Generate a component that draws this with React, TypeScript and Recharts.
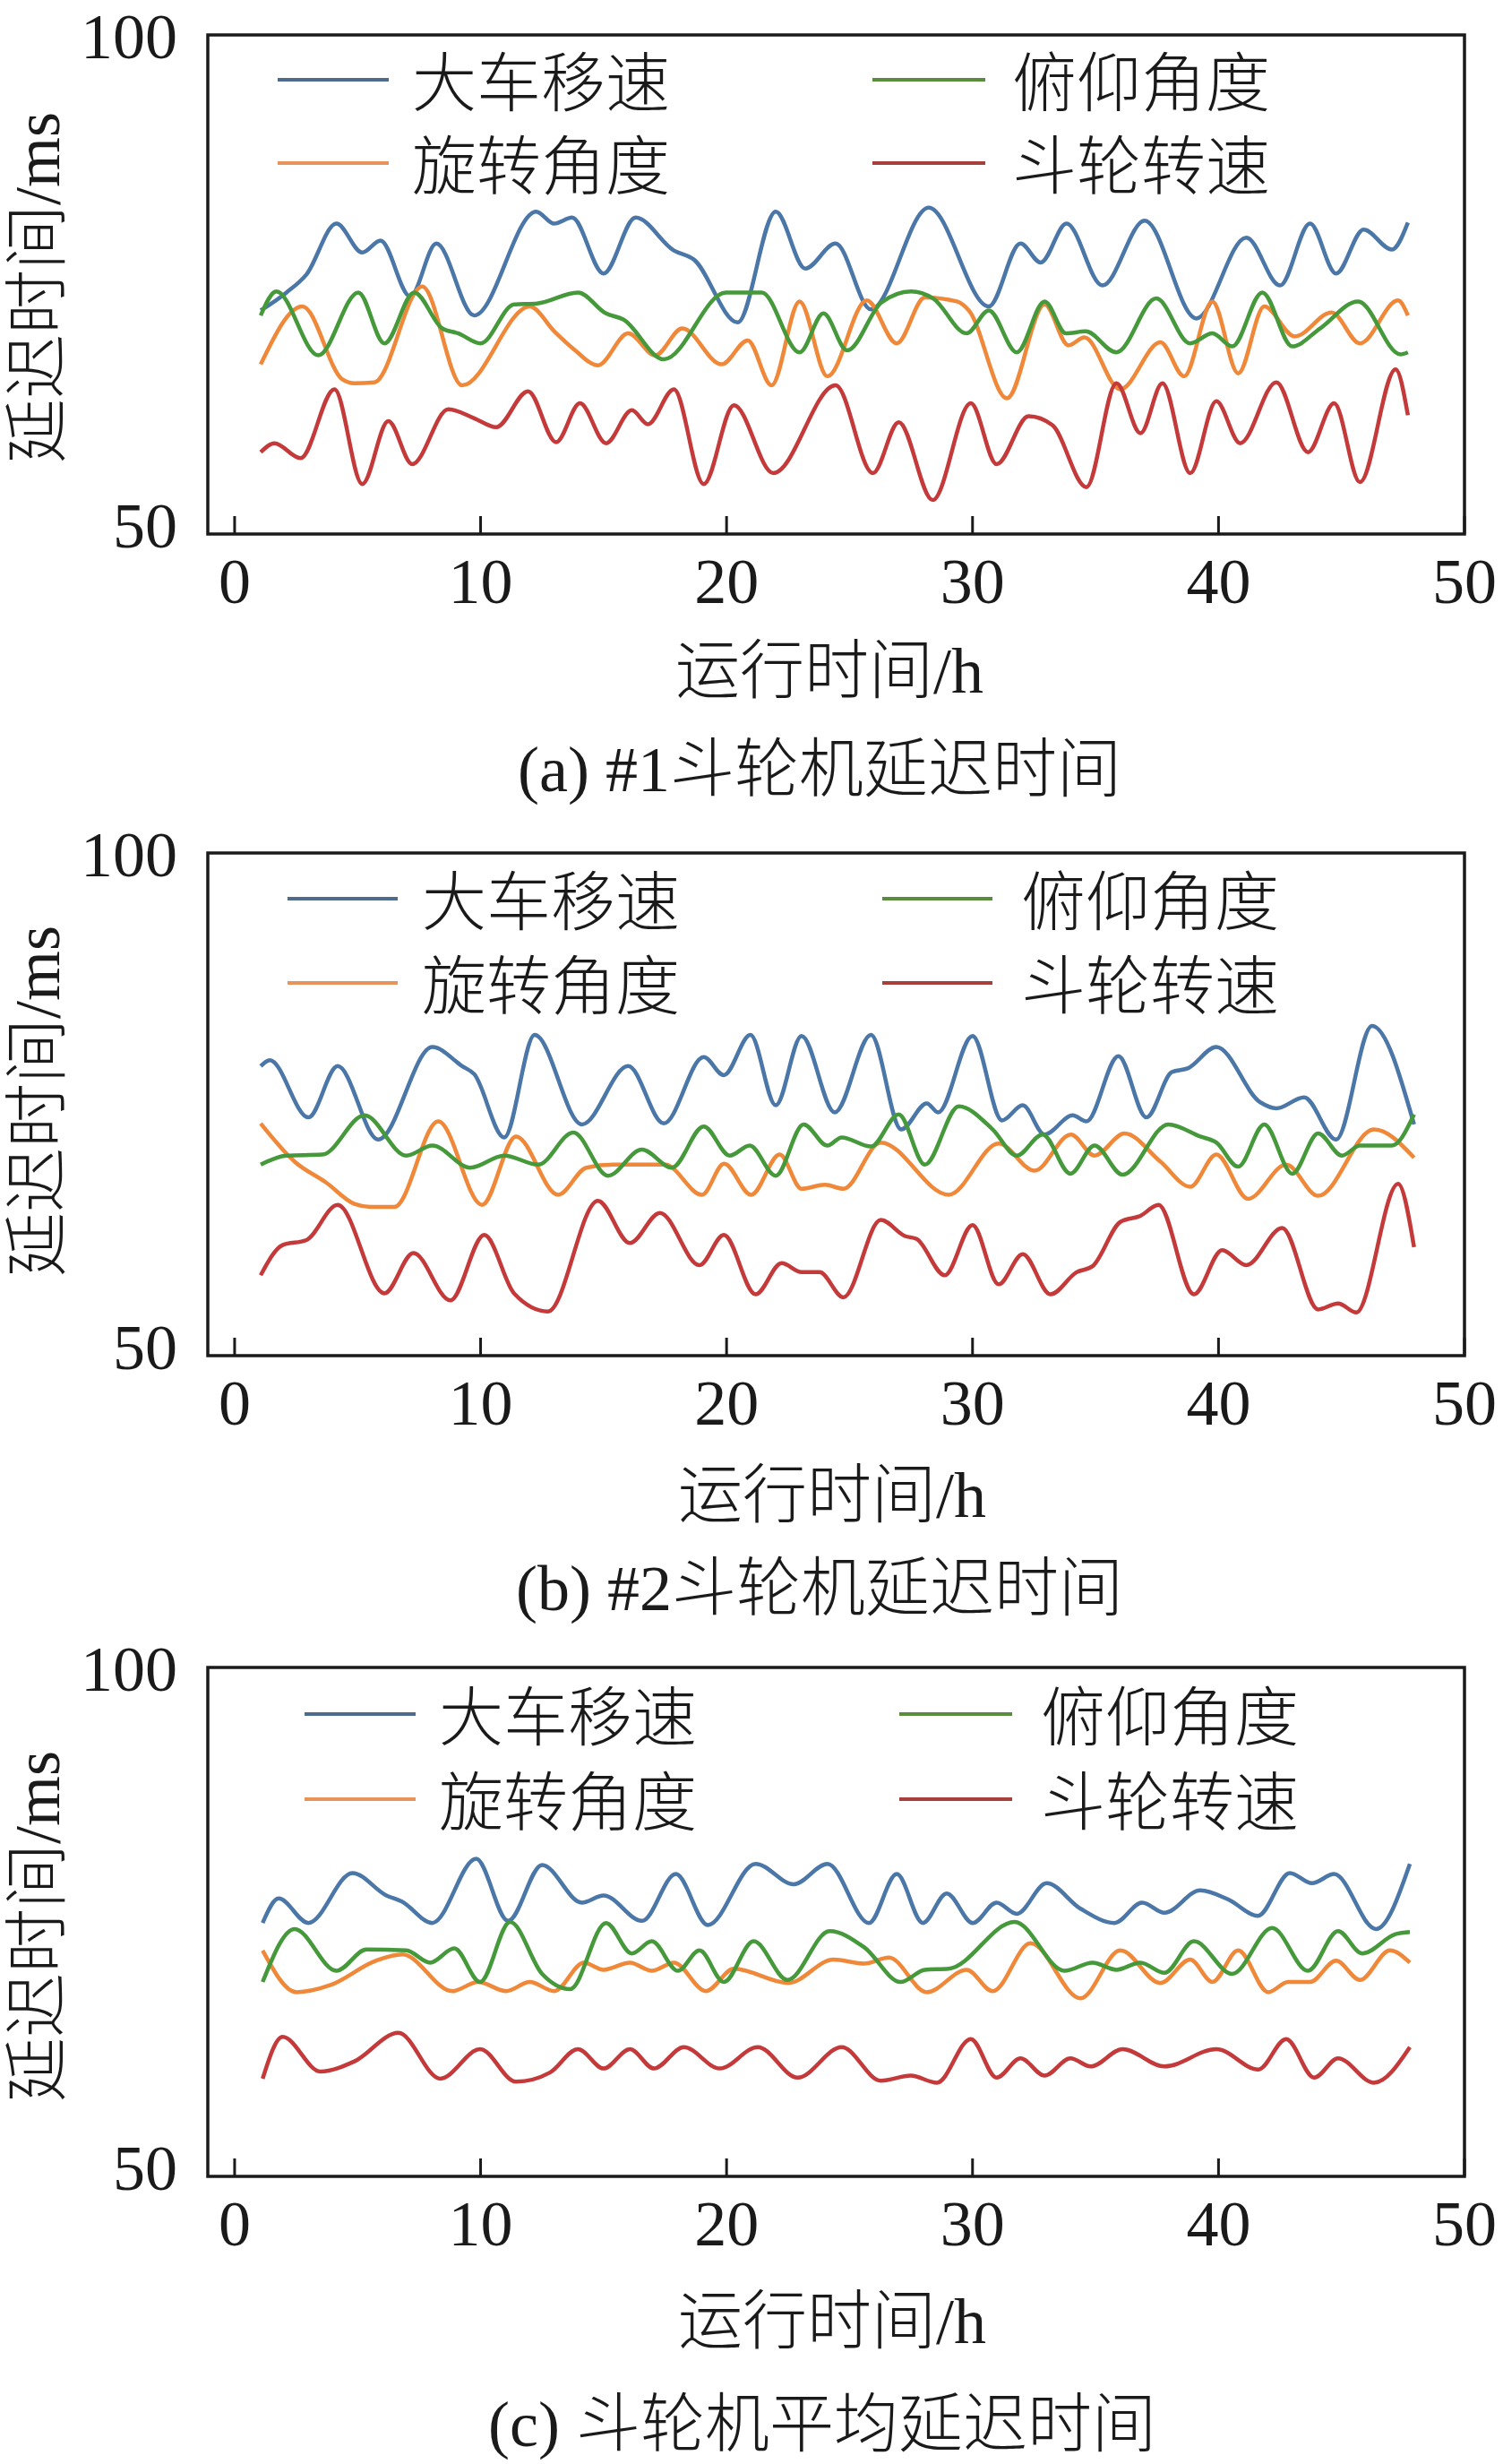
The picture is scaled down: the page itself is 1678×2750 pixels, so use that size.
import React from 'react';
import { LineChart, Line, XAxis, YAxis, ReferenceArea } from 'recharts';

const FONT = "'Liberation Serif','Times New Roman','Noto Sans CJK SC',serif";
const INK = '#1a1a1a';

const X_TICKS = [0, 10, 20, 30, 40, 50];
const Y_TICKS = [50, 100];
const X_DOMAIN: [number, number] = [-1.09, 50];
const Y_DOMAIN: [number, number] = [50, 100];

const SERIES_NAMES = ['大车移速', '旋转角度', '俯仰角度', '斗轮转速'];
const LINE_COLORS = ['#4a76a8', '#f0883a', '#45993b', '#c43a3a'];
const LEGEND_COLORS = ['#4d6b8c', '#e6935c', '#5a8c3e', '#a5403a'];

const X_TITLE = '运行时间/h';
const Y_TITLE = '延迟时间/ms';
const CAPTIONS = ['(a) #1斗轮机延迟时间', '(b) #2斗轮机延迟时间', '(c) 斗轮机平均延迟时间'];

type P = [number, number];

// ---------- Panel (a): #1 ----------
const A_BLUE: P[] = [
  [1.06, 72.4], [2.11, 74.2], [2.92, 76.0], [4.14, 81.1], [5.19, 78.2], [5.93, 79.4], [7.14, 73.8],
  [8.2, 79.1], [9.74, 71.9], [12.26, 82.3], [12.99, 81.1], [13.72, 81.7], [15.0, 76.1], [16.3, 81.7],
  [17.86, 78.4], [18.67, 77.5], [20.45, 71.2], [22.0, 82.3], [23.2, 76.6], [24.43, 79.1], [25.87, 72.5],
  [28.22, 82.7], [30.66, 72.8], [31.95, 79.1], [32.77, 77.2], [33.82, 81.1], [35.28, 74.9], [37.0, 81.4],
  [39.1, 71.6], [41.13, 79.7], [42.5, 74.9], [43.72, 81.1], [44.78, 76.1], [45.9, 80.5], [47.05, 78.5],
  [47.7, 81.2],
];
const A_ORANGE: P[] = [
  [1.06, 67.0], [2.76, 72.8], [4.38, 65.5], [4.87, 65.1], [5.68, 65.2], [7.63, 74.8], [9.25, 64.9],
  [12.0, 72.8], [13.0, 70.3], [13.8, 68.5], [14.77, 66.9], [16.0, 70.1], [17.1, 67.9], [18.2, 70.6],
  [19.8, 67.0], [20.86, 69.4], [21.83, 64.9], [22.97, 73.3], [24.1, 65.8], [25.7, 73.4], [26.92, 69.1],
  [28.06, 73.7], [29.36, 73.3], [29.85, 72.4], [31.4, 63.6], [32.93, 73.0], [33.9, 68.9], [34.55, 69.7],
  [36.0, 64.5], [37.64, 69.2], [38.6, 65.8], [39.75, 73.3], [40.8, 66.1], [41.86, 72.8], [43.1, 69.8],
  [44.6, 72.2], [45.75, 69.1], [47.3, 73.4], [47.7, 71.9],
];
const A_GREEN: P[] = [
  [1.06, 71.9], [1.7, 74.3], [3.4, 67.9], [5.03, 74.2], [6.09, 69.1], [7.3, 74.2], [8.44, 70.6],
  [9.1, 70.1], [10.0, 69.1], [11.36, 73.0], [12.3, 73.1], [13.96, 74.2], [15.1, 72.1], [15.8, 71.5],
  [17.45, 67.5], [19.97, 74.2], [21.43, 74.2], [22.97, 68.2], [23.94, 72.1], [24.9, 68.4], [26.3, 73.2],
  [27.5, 74.3], [28.4, 73.6], [29.76, 70.1], [30.66, 72.4], [31.8, 68.2], [32.93, 73.3], [33.8, 70.1],
  [34.6, 70.3], [35.85, 68.2], [37.47, 73.6], [38.85, 69.1], [39.75, 70.1], [40.56, 68.8], [41.78, 74.2],
  [43.0, 68.8], [44.13, 70.6], [45.67, 73.3], [47.4, 68.0], [47.7, 68.2],
];
const A_RED: P[] = [
  [1.06, 58.2], [1.62, 59.1], [2.68, 57.6], [4.06, 64.5], [5.19, 55.0], [6.25, 61.3], [7.22, 57.0],
  [8.69, 62.5], [9.74, 61.6], [10.63, 60.7], [11.93, 64.3], [13.07, 59.2], [14.04, 63.1], [15.1, 59.1],
  [16.15, 62.4], [16.8, 61.0], [17.86, 64.5], [19.07, 55.0], [20.3, 62.9], [21.9, 56.1], [24.43, 64.9],
  [25.95, 56.1], [27.0, 61.2], [28.38, 53.4], [29.93, 63.1], [30.98, 57.0], [32.28, 61.8], [33.25, 60.9],
  [34.63, 54.7], [35.85, 65.1], [36.83, 60.1], [37.72, 65.1], [38.85, 56.1], [39.91, 63.3], [40.88, 59.1],
  [42.35, 65.2], [43.64, 58.2], [44.7, 63.1], [45.75, 55.2], [47.2, 66.5], [47.7, 61.9],
];

// ---------- Panel (b): #2 ----------
const B_BLUE: P[] = [
  [1.06, 78.8], [1.43, 79.4], [3.0, 73.7], [4.19, 78.8], [5.84, 71.5], [8.04, 80.7], [9.25, 78.8],
  [9.74, 78.0], [10.96, 71.7], [12.2, 81.9], [14.12, 73.0], [16.0, 78.8], [17.45, 73.1], [19.07, 79.7],
  [19.89, 77.9], [20.97, 81.9], [22.0, 74.9], [23.05, 81.8], [24.4, 74.2], [25.87, 81.9], [27.1, 72.5],
  [28.14, 75.1], [28.6, 74.2], [30.0, 81.8], [31.2, 73.4], [32.04, 74.9], [32.93, 72.0], [34.07, 73.9],
  [34.63, 73.3], [35.93, 79.8], [37.07, 73.7], [38.1, 78.2], [38.77, 78.6], [39.91, 80.7], [41.7, 75.2],
  [42.35, 74.6], [43.48, 75.7], [44.78, 71.5], [46.24, 82.8], [47.95, 73.0],
];
const B_ORANGE: P[] = [
  [1.06, 73.1], [2.44, 69.3], [3.73, 67.2], [4.87, 65.1], [5.52, 64.8], [6.5, 64.8], [8.28, 73.3],
  [10.06, 65.0], [11.44, 71.8], [13.15, 66.0], [14.3, 68.7], [15.4, 69.0], [17.5, 69.0], [19.0, 66.0],
  [19.9, 69.1], [21.0, 66.0], [22.16, 70.0], [23.05, 66.6], [24.0, 67.0], [24.75, 66.6], [26.27, 71.2],
  [29.03, 66.0], [31.06, 71.1], [32.52, 68.4], [34.0, 72.0], [34.96, 69.9], [36.18, 72.1], [37.64, 69.3],
  [38.85, 66.8], [39.91, 70.0], [41.2, 65.6], [42.75, 69.0], [44.05, 65.9], [46.32, 72.5], [47.95, 69.7],
];
const B_GREEN: P[] = [
  [1.06, 69.0], [2.11, 69.9], [3.57, 70.0], [5.28, 73.9], [6.98, 69.9], [8.04, 70.9], [9.58, 68.7],
  [10.96, 69.9], [12.34, 69.0], [13.77, 72.2], [15.18, 67.9], [16.56, 70.5], [17.78, 68.7], [19.07, 72.8],
  [20.13, 69.9], [20.94, 70.9], [22.0, 67.9], [23.13, 73.0], [24.1, 70.9], [24.68, 71.7], [25.87, 70.8],
  [27.0, 74.0], [28.06, 69.0], [29.44, 74.8], [30.82, 72.5], [31.8, 69.9], [32.85, 72.0], [33.98, 68.1],
  [34.96, 70.9], [36.1, 68.0], [37.96, 73.0], [39.26, 71.8], [39.91, 71.2], [40.8, 68.8], [41.86, 73.0],
  [43.0, 68.1], [44.05, 72.1], [45.02, 69.9], [45.75, 70.9], [47.05, 70.9], [47.95, 74.0],
];
const B_RED: P[] = [
  [1.06, 58.0], [1.95, 61.0], [2.92, 61.5], [4.19, 65.0], [6.09, 56.2], [7.27, 60.2], [8.77, 55.5],
  [10.15, 62.0], [11.36, 56.2], [12.74, 54.4], [14.77, 65.4], [16.07, 61.2], [17.29, 64.2], [18.9, 59.0],
  [19.89, 62.0], [21.18, 56.1], [22.24, 59.2], [23.05, 58.3], [23.78, 58.3], [24.75, 55.8], [26.27, 63.5],
  [27.25, 61.9], [27.73, 61.6], [28.87, 58.0], [30.0, 63.0], [31.06, 57.1], [32.04, 60.1], [33.17, 56.1],
  [34.23, 58.3], [34.88, 58.9], [36.01, 63.3], [36.82, 63.9], [37.56, 65.0], [39.0, 56.1], [40.15, 60.5],
  [41.13, 59.0], [42.59, 62.7], [44.05, 54.6], [44.86, 55.2], [45.6, 54.3], [47.3, 67.1], [47.95, 60.8],
];

// ---------- Panel (c): average ----------
const C_BLUE: P[] = [
  [1.14, 74.9], [1.79, 77.3], [3.0, 74.9], [4.79, 79.8], [6.17, 77.6], [6.8, 77.0], [8.04, 74.9],
  [9.82, 81.2], [11.12, 75.1], [12.5, 80.6], [14.12, 76.9], [15.0, 77.6], [16.56, 75.1], [17.94, 79.7],
  [19.24, 74.7], [21.18, 80.7], [22.73, 78.7], [24.1, 80.7], [25.79, 74.9], [26.92, 79.7], [27.98, 74.9],
  [28.95, 77.8], [30.01, 74.9], [30.98, 76.9], [31.8, 75.8], [33.01, 78.8], [34.39, 76.3], [35.77, 74.9],
  [36.9, 76.9], [37.8, 75.9], [39.26, 78.1], [40.4, 77.2], [41.6, 75.6], [42.9, 79.8], [43.8, 78.8],
  [44.7, 79.7], [46.4, 74.3], [47.78, 80.7],
];
const C_ORANGE: P[] = [
  [1.14, 72.2], [2.52, 68.1], [3.9, 68.8], [5.76, 71.2], [6.82, 71.8], [8.85, 68.2], [9.9, 69.1],
  [11.04, 68.2], [12.0, 69.1], [12.99, 68.2], [14.2, 71.0], [15.0, 70.3], [16.07, 71.0], [16.96, 70.2],
  [17.86, 71.0], [19.16, 68.2], [20.3, 70.4], [22.5, 69.0], [24.35, 71.3], [25.6, 70.9], [26.6, 71.5],
  [28.14, 68.1], [29.76, 70.3], [30.82, 68.2], [32.36, 72.9], [34.39, 67.5], [36.01, 72.2], [37.64, 69.0],
  [38.85, 71.3], [39.75, 69.1], [40.8, 72.2], [42.02, 68.1], [42.83, 69.1], [43.72, 69.1], [44.78, 71.2],
  [45.75, 69.3], [46.97, 72.2], [47.78, 71.0],
];
const C_GREEN: P[] = [
  [1.14, 69.1], [2.44, 74.3], [4.14, 70.2], [5.36, 72.3], [6.98, 72.2], [7.95, 71.0], [8.93, 72.4],
  [9.98, 69.1], [11.2, 75.0], [12.5, 69.9], [13.64, 68.4], [15.1, 74.9], [16.15, 71.9], [16.96, 73.1],
  [18.02, 70.2], [18.9, 72.2], [19.89, 69.1], [21.1, 73.1], [22.48, 69.3], [24.19, 74.1], [25.6, 72.5],
  [27.08, 69.1], [28.06, 70.3], [29.03, 70.4], [31.71, 75.0], [33.74, 70.2], [34.88, 71.0], [35.85, 70.3],
  [36.82, 71.0], [37.8, 70.0], [39.0, 73.1], [40.56, 69.9], [42.18, 74.4], [43.64, 70.2], [44.86, 74.1],
  [45.84, 71.9], [47.2, 73.8], [47.78, 74.0],
];
const C_RED: P[] = [
  [1.14, 59.6], [1.95, 63.7], [3.49, 60.3], [4.87, 61.3], [6.66, 64.1], [8.36, 59.6], [9.98, 62.5],
  [11.44, 59.3], [12.82, 60.2], [13.96, 62.5], [15.0, 60.6], [16.07, 62.5], [17.05, 60.6], [18.26, 62.7],
  [19.72, 60.6], [21.27, 62.7], [22.89, 59.7], [24.68, 62.7], [26.27, 59.4], [27.49, 59.9], [28.55, 59.2],
  [29.93, 63.5], [30.98, 59.7], [31.95, 61.6], [32.93, 59.9], [33.98, 61.6], [34.8, 60.8], [36.1, 62.5],
  [37.8, 60.8], [39.91, 62.5], [41.62, 60.5], [42.75, 63.5], [43.89, 59.7], [44.86, 61.6], [46.32, 59.2],
  [47.78, 62.7],
];

const toRows = (pts: P[]) => pts.map(([t, v]) => ({ t, v }));

type PanelCfg = {
  series: P[][];
  top: number;
  height: number;
  marginTop: number;
  axisHeight: number;
  legend: { l1: number; l2: number; t1: number; c1: number; c2: number; tc: number; r1: number; r2: number };
  yTitleY: number;
  xTitle: { x: number; y: number };
  caption: { x: number; y: number };
};

const PANELS: PanelCfg[] = [
  {
    series: [A_BLUE, A_ORANGE, A_GREEN, A_RED],
    top: 0, height: 900, marginTop: 39, axisHeight: 304,
    legend: { l1: 310, l2: 434, t1: 460, c1: 974, c2: 1100, tc: 1130, r1: 89, r2: 182 },
    yTitleY: 321, xTitle: { x: 926, y: 773 }, caption: { x: 915, y: 883 },
  },
  {
    series: [B_BLUE, B_ORANGE, B_GREEN, B_RED],
    top: 900, height: 900, marginTop: 52, axisHeight: 287,
    legend: { l1: 321, l2: 444, t1: 471, c1: 985, c2: 1108, tc: 1140, r1: 1003, r2: 1097 },
    yTitleY: 1229, xTitle: { x: 929, y: 1693 }, caption: { x: 915, y: 1797 },
  },
  {
    series: [C_BLUE, C_ORANGE, C_GREEN, C_RED],
    top: 1800, height: 950, marginTop: 61, axisHeight: 321,
    legend: { l1: 340, l2: 464, t1: 490, c1: 1004, c2: 1130, tc: 1162, r1: 1913, r2: 2008 },
    yTitleY: 2150, xTitle: { x: 929, y: 2615 }, caption: { x: 918, y: 2730 },
  },
];

const XTick = (props: any) => {
  const { x, y, payload } = props;
  return (
    <g>
      <line x1={x} x2={x} y1={y} y2={y - 20} stroke={INK} strokeWidth={3} />
      <text x={x} y={y + 77} textAnchor="middle" fontSize={72} fontFamily={FONT} fill={INK}>
        {payload.value}
      </text>
    </g>
  );
};

const YTick = (props: any) => {
  const { x, y, payload } = props;
  const dy = payload.value === 100 ? 26 : 15;
  return (
    <text x={x - 34} y={y + dy} textAnchor="end" fontSize={72} fontFamily={FONT} fill={INK}>
      {payload.value}
    </text>
  );
};

const Panel = ({ cfg }: { cfg: PanelCfg }) => (
  <div style={{ position: 'absolute', left: 0, top: cfg.top, width: 1678, height: cfg.height }}>
    <LineChart
      width={1678}
      height={cfg.height}
      margin={{ top: cfg.marginTop, right: 43, bottom: 0, left: 0 }}
    >
      <XAxis
        dataKey="t"
        type="number"
        domain={X_DOMAIN}
        ticks={X_TICKS}
        height={cfg.axisHeight}
        axisLine={false}
        tickLine={false}
        tickSize={0}
        tickMargin={0}
        tick={<XTick />}
        interval={0}
        allowDataOverflow
      />
      <YAxis
        type="number"
        domain={Y_DOMAIN}
        ticks={Y_TICKS}
        width={232}
        axisLine={false}
        tickLine={false}
        tickSize={0}
        tickMargin={0}
        tick={<YTick />}
        interval={0}
        allowDataOverflow
      />
      <ReferenceArea
        x1={X_DOMAIN[0]}
        x2={X_DOMAIN[1]}
        y1={Y_DOMAIN[0]}
        y2={Y_DOMAIN[1]}
        fill="none"
        fillOpacity={0}
        stroke={INK}
        strokeWidth={3.5}
        ifOverflow="visible"
      />
      {cfg.series.map((s, i) => (
        <Line
          key={SERIES_NAMES[i]}
          data={toRows(s)}
          dataKey="v"
          name={SERIES_NAMES[i]}
          type="monotone"
          stroke={LINE_COLORS[i]}
          strokeWidth={4.5}
          dot={false}
          activeDot={false}
          isAnimationActive={false}
        />
      ))}
    </LineChart>
  </div>
);

const Overlay = () => (
  <svg
    width={1678}
    height={2750}
    style={{ position: 'absolute', left: 0, top: 0, pointerEvents: 'none' }}
    fontFamily={FONT}
    fontWeight={300}
    fill={INK}
  >
    {PANELS.map((p, k) => {
      const L = p.legend;
      const items = [
        { name: SERIES_NAMES[0], color: LEGEND_COLORS[0], x1: L.l1, x2: L.l2, tx: L.t1, y: L.r1 },
        { name: SERIES_NAMES[1], color: LEGEND_COLORS[1], x1: L.l1, x2: L.l2, tx: L.t1, y: L.r2 },
        { name: SERIES_NAMES[2], color: LEGEND_COLORS[2], x1: L.c1, x2: L.c2, tx: L.tc, y: L.r1 },
        { name: SERIES_NAMES[3], color: LEGEND_COLORS[3], x1: L.c1, x2: L.c2, tx: L.tc, y: L.r2 },
      ];
      return (
        <g key={k}>
          {items.map((it) => (
            <g key={it.name}>
              <line x1={it.x1} x2={it.x2} y1={it.y} y2={it.y} stroke={it.color} strokeWidth={4} />
              <text x={it.tx} y={it.y + 29} fontSize={72}>
                {it.name}
              </text>
            </g>
          ))}
          <text
            transform={`translate(66, ${p.yTitleY}) rotate(-90)`}
            textAnchor="middle"
            fontSize={72}
          >
            {Y_TITLE}
          </text>
          <text x={p.xTitle.x} y={p.xTitle.y} textAnchor="middle" fontSize={72}>
            {X_TITLE}
          </text>
          <text x={p.caption.x} y={p.caption.y} textAnchor="middle" fontSize={72}>
            {CAPTIONS[k]}
          </text>
        </g>
      );
    })}
  </svg>
);

export default function App() {
  return (
    <div style={{ position: 'absolute', left: 0, top: 0, width: 1678, height: 2750, background: '#fff' }}>
      {PANELS.map((p, i) => (
        <Panel key={i} cfg={p} />
      ))}
      <Overlay />
    </div>
  );
}
